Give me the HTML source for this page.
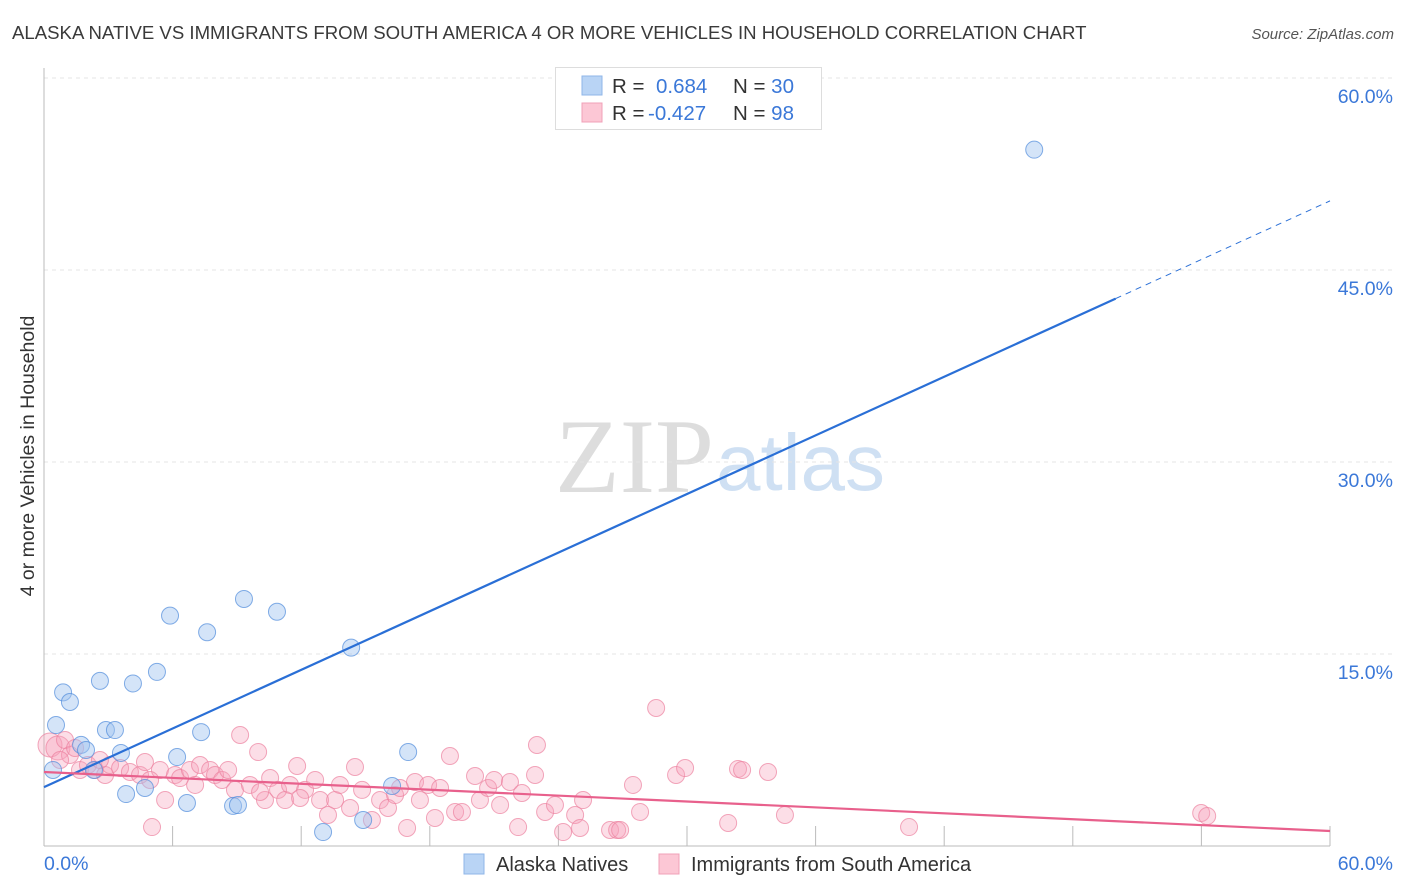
<!DOCTYPE html>
<html><head><meta charset="utf-8">
<style>
body{margin:0;background:#fff;font-family:"Liberation Sans",sans-serif;}
svg{display:block}
</style></head>
<body>
<svg id="chart" width="1406" height="892" xmlns="http://www.w3.org/2000/svg">
<text x="12" y="39" font-size="18.6" fill="#3a3a3a">ALASKA NATIVE VS IMMIGRANTS FROM SOUTH AMERICA 4 OR MORE VEHICLES IN HOUSEHOLD CORRELATION CHART</text>
<text x="1394" y="39" font-size="15" font-style="italic" fill="#555" text-anchor="end">Source: ZipAtlas.com</text>
<text x="714" y="492" font-size="106" font-family="Liberation Serif,serif" fill="#ddd" text-anchor="end">ZIP</text>
<text x="716" y="490" font-size="80" fill="#cfe0f3">atlas</text>
<text transform="translate(34,456) rotate(-90)" font-size="19.5" fill="#333" text-anchor="middle">4 or more Vehicles in Household</text>
<g id="grid"></g>
<g id="pts"></g>
<g id="trends"></g>
<g>
<rect x="555.5" y="67.5" width="266" height="62" fill="#fff" stroke="#ddd"/>
<rect x="582" y="76" width="20" height="19" fill="#b9d4f5" stroke="#8fb6e8"/>
<rect x="582" y="103" width="20" height="19" fill="#fcc7d5" stroke="#f0a0b8"/>
<text x="612" y="93" font-size="20.5" fill="#333">R = <tspan x="656" fill="#3b78d8">0.684</tspan><tspan x="733" fill="#333">N = </tspan><tspan fill="#3b78d8">30</tspan></text>
<text x="612" y="120" font-size="20.5" fill="#333">R = <tspan x="648" fill="#3b78d8">-0.427</tspan><tspan x="733" fill="#333">N = </tspan><tspan fill="#3b78d8">98</tspan></text>
</g>
<g>
<rect x="464" y="854" width="20" height="20" fill="#b9d4f5" stroke="#8fb6e8"/>
<text x="496" y="871" font-size="20" fill="#333">Alaska Natives</text>
<rect x="659" y="854" width="20" height="20" fill="#fcc7d5" stroke="#f0a0b8"/>
<text x="691" y="871" font-size="20" fill="#333">Immigrants from South America</text>
</g>
</svg>
<script>
const blueX=[46.2,9.33,10.87,5.88,7.61,14.33,5.27,2.61,4.15,0.89,1.21,0.56,2.89,3.31,7.33,1.73,1.96,3.59,16.99,6.21,0.42,2.33,3.83,4.71,6.67,8.82,9.05,13.02,14.89,16.24];
const blueY=[54.4,19.3,18.3,18.0,16.7,15.5,13.6,12.9,12.7,12.0,11.25,9.45,9.06,9.06,8.9,7.9,7.5,7.27,7.34,6.95,5.94,5.94,4.06,4.53,3.36,3.13,3.2,1.09,2.03,4.69];
const pinkX=[0.28,0.65,0.98,1.21,1.68,2.05,2.38,2.85,3.08,3.55,4.01,4.48,4.71,5.04,5.41,5.65,6.11,6.35,6.81,7.05,7.28,7.75,7.98,8.31,8.59,8.91,9.15,9.61,9.99,10.31,10.55,10.92,11.25,11.48,11.81,12.18,12.65,12.88,13.25,13.58,13.81,14.28,14.51,14.84,15.3,15.68,16.05,16.38,16.61,16.94,17.31,17.54,17.92,18.24,18.48,18.94,19.18,19.5,20.11,20.34,20.72,21.0,21.28,21.74,22.12,22.3,22.91,23.0,23.38,23.84,24.22,24.78,25.01,25.15,26.41,26.74,26.88,27.48,27.81,28.56,29.49,29.91,31.92,32.38,32.57,33.78,34.57,40.36,53.99,54.27,0.75,1.45,2.61,4.95,10.08,11.95];
const pinkY=[7.89,7.66,8.28,7.11,5.94,6.33,5.94,5.55,6.33,6.09,5.78,5.55,6.56,1.48,5.94,3.59,5.55,5.31,5.94,4.77,6.33,5.94,5.55,5.16,5.94,4.38,8.67,4.77,7.34,3.59,5.31,4.38,3.59,4.77,6.25,4.38,5.16,3.59,2.42,3.59,4.77,2.97,6.17,4.38,2.03,3.59,2.97,3.98,4.53,1.41,5.0,3.59,4.77,2.19,4.53,7.03,2.66,2.66,5.47,3.59,4.53,5.16,3.2,5.0,1.48,4.14,5.55,7.89,2.66,3.2,1.09,2.42,1.41,3.59,1.25,1.25,1.25,4.77,2.66,10.78,5.55,6.09,1.8,6.02,5.94,5.78,2.42,1.48,2.58,2.34,6.72,7.66,6.72,5.16,4.22,3.75];
const blueTrend=[4.6,50.4]; // y at x=0 and x=60
const pinkTrend=[5.78,1.17];
const yTicks=[15,30,45,60];
const yTickLabels=["15.0%","30.0%","45.0%","60.0%"];
const xTicks=[0,6,12,18,24,30,36,42,48,54,60];

const NS="http://www.w3.org/2000/svg";
const X0=44,X1=1330,Y0=846,PER=192/15;
const sx=v=>X0+(X1-X0)*v/60;
const sy=v=>Y0-v*PER;
function mk(tag,attrs,parent){const e=document.createElementNS(NS,tag);for(const k in attrs)e.setAttribute(k,attrs[k]);parent.appendChild(e);return e;}
const grid=document.getElementById('grid');
yTicks.forEach((t,i)=>{
  const l=mk('line',{x1:X0,x2:1393,y1:sy(t),y2:sy(t),stroke:'#e4e4e4','stroke-dasharray':'4,4'},grid);
  
  
  const tx=mk('text',{x:1393,y:sy(t)+25,'font-size':19.5,fill:'#3b78d8','text-anchor':'end'},grid);
  tx.textContent=yTickLabels[i];
  
  
});
const ya=mk('line',{x1:X0,x2:X0,y1:68,y2:Y0,stroke:'#bbb'},grid);


const xa=mk('line',{x1:X0,x2:X1,y1:Y0,y2:Y0,stroke:'#bbb'},grid);


xTicks.forEach(t=>{
  const l=mk('line',{x1:sx(t),x2:sx(t),y1:Y0-20,y2:Y0,stroke:'#bbb'},grid);
  
  
});
const xl0=mk('text',{x:44,y:870,'font-size':19.5,fill:'#3b78d8'},grid);xl0.textContent='0.0%';


const xl1=mk('text',{x:1393,y:870,'font-size':19.5,fill:'#3b78d8','text-anchor':'end'},grid);xl1.textContent='60.0%';



const pts=document.getElementById('pts');
pinkX.forEach((x,i)=>{
  const big=i<2;
  const c=mk('circle',{cx:sx(x),cy:sy(pinkY[i]),r:big?12:8.5,fill:'rgba(246,160,186,0.35)',stroke:'rgba(236,130,160,0.7)','stroke-width':1},pts);
  
  
});
blueX.forEach((x,i)=>{
  const c=mk('circle',{cx:sx(x),cy:sy(blueY[i]),r:8.5,fill:'rgba(160,196,240,0.45)',stroke:'rgba(80,140,220,0.7)','stroke-width':1},pts);
  
  
});
const tr=document.getElementById('trends');
const bAt=x=>blueTrend[0]+(blueTrend[1]-blueTrend[0])*x/60;
const bs=mk('line',{x1:sx(0),y1:sy(bAt(0)),x2:sx(50),y2:sy(bAt(50)),stroke:'#2a6fd6','stroke-width':2.2},tr);


const bd=mk('line',{x1:sx(50),y1:sy(bAt(50)),x2:sx(60),y2:sy(bAt(60)),stroke:'#2a6fd6','stroke-width':1,'stroke-dasharray':'6,5'},tr);


const ps=mk('line',{x1:sx(0),y1:sy(pinkTrend[0]),x2:sx(60),y2:sy(pinkTrend[1]),stroke:'#e8608c','stroke-width':2.2},tr);


</script>
</body></html>
